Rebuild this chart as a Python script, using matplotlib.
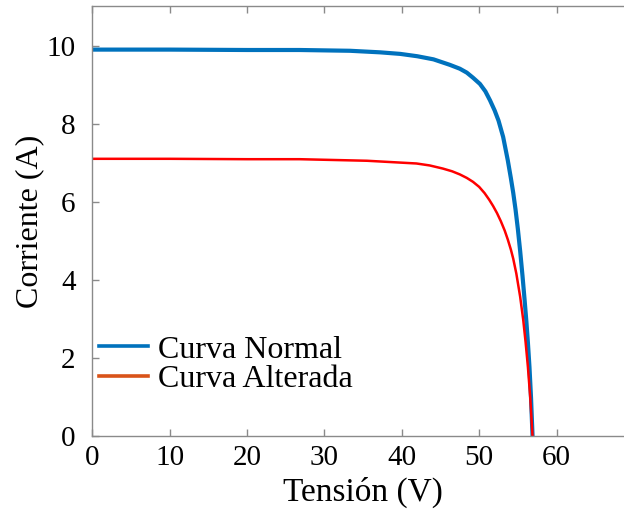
import matplotlib
matplotlib.use("Agg")
import matplotlib.pyplot as plt
from matplotlib.lines import Line2D

# curva normal
v_normal = [0, 10, 20, 26.8, 33.3, 37.2, 39.8, 42.0, 44.1, 46.2, 47.5, 48.4, 49.2,
            50.1, 50.8, 51.4, 52.0, 52.5, 53.1, 53.7, 54.1, 54.4, 54.7, 55.0, 55.3,
            55.6, 55.85, 56.1, 56.3, 56.5, 56.7, 56.9]
i_normal = [9.92, 9.92, 9.91, 9.91, 9.89, 9.85, 9.81, 9.75, 9.67, 9.53, 9.43, 9.33, 9.20,
            9.04, 8.85, 8.62, 8.36, 8.10, 7.68, 7.08, 6.62, 6.25, 5.82, 5.32, 4.75,
            4.12, 3.55, 2.95, 2.40, 1.78, 1.00, 0.0]

# curva alterada
v_alter = [0, 10, 20, 26.8, 35.5, 41.9, 43.6, 45.3, 46.5, 47.5, 48.4, 49.2, 50.0,
           50.7, 51.3, 51.8, 52.3, 52.8, 53.3, 53.7, 54.1, 54.4, 54.8, 55.3, 55.7,
           56.0, 56.3, 56.6, 56.9]
i_alter = [7.12, 7.12, 7.11, 7.11, 7.07, 7.00, 6.95, 6.87, 6.80, 6.72, 6.63, 6.53, 6.40,
           6.24, 6.07, 5.91, 5.73, 5.52, 5.28, 5.05, 4.79, 4.56, 4.18, 3.58, 2.98,
           2.42, 1.78, 1.00, 0.0]

labels = ["Curva Normal", "Curva Alterada"]
xticks = [0, 10, 20, 30, 40, 50, 60]
yticks = [0, 2, 4, 6, 8, 10]

plt.rcParams['font.family'] = ['Liberation Serif', 'DejaVu Serif']
plt.rcParams['font.size'] = 21

fig = plt.figure(figsize=(6.24, 5.2), dpi=100)
ax = fig.add_axes([0.1479, 0.1606, 0.868, 0.828])

ax.plot(v_normal, i_normal, color='#0072BD', lw=3.0, solid_joinstyle='round')
ax.plot(v_alter, i_alter, color='#FF0000', lw=1.8, solid_joinstyle='round')

ax.set_xlim(0, 70)
ax.set_ylim(0, 11.04)
ax.set_xticks(xticks)
ax.set_yticks(yticks)

for s in ax.spines.values():
    s.set_color('#8a8a8a')
    s.set_linewidth(1.0)
ax.tick_params(direction='in', length=5, width=1.0, color='#8a8a8a',
               top=True, right=True, labelsize=21)
ax.tick_params(axis='y', pad=12)
ax.tick_params(axis='x', pad=6)

ax.set_xlabel('Tensión (V)', fontsize=24, labelpad=4)
ax.set_ylabel('Corriente (A)', fontsize=23, labelpad=2)

handles = [Line2D([], [], color='#0072BD', lw=2.6),
           Line2D([], [], color='#D95319', lw=2.6)]
ax.legend(handles, labels, loc='upper left', bbox_to_anchor=(0.0, 0.25),
          frameon=False, fontsize=23, handlelength=1.55, handletextpad=0.3,
          labelspacing=0.0, borderaxespad=0.0, borderpad=0.2)

fig.savefig('out.png', dpi=100)
